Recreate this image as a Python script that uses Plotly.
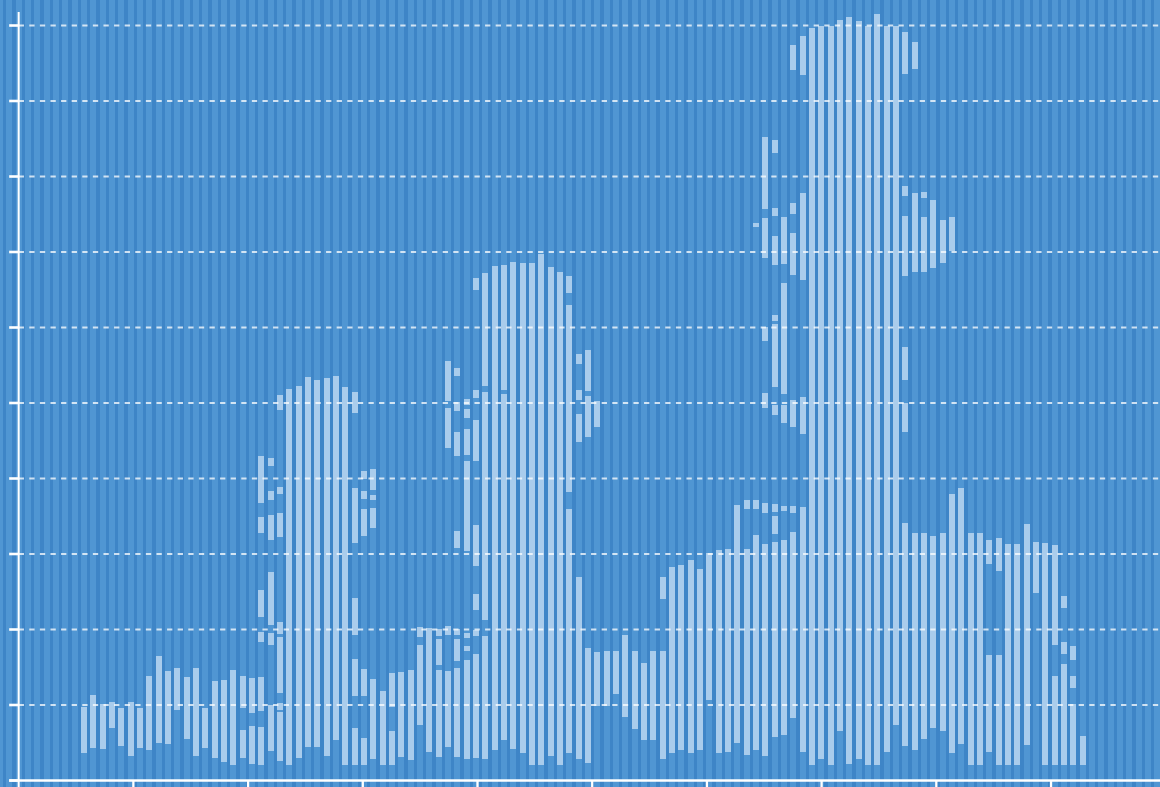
import plotly.graph_objects as go

# Floating light bands per column: column index, lower value, upper value
band_col = [
    9, 10, 11, 12, 13, 14, 15, 16, 17, 18, 19, 20, 21, 22, 23, 24, 25,
    26, 26, 27, 27,
    28, 28, 28, 28, 28, 28,
    29, 29, 29, 29, 29, 29,
    30, 30, 30, 30, 30, 30, 30,
    31, 32, 33, 34, 35, 36, 37,
    38, 38, 38, 38, 38,
    39, 39, 39, 39, 39,
    40, 40, 40, 40,
    41, 42, 42, 43, 44, 45, 45, 46, 47, 47, 47,
    48, 48, 48, 48,
    49, 49, 49, 49, 49, 49, 49,
    50, 50, 50, 50, 50, 50, 50,
    51, 51, 51, 51, 51, 51, 51,
    52, 52, 52,
    53, 54, 54, 55, 56, 57, 58, 59, 60,
    61, 61, 61,
    62, 62, 62, 62,
    63, 63, 63,
    64, 64, 65, 66, 67, 68, 69, 70, 71, 71,
    72, 73, 74, 75, 76, 77, 78, 79, 80, 80,
    81, 81, 81,
    82, 82, 82, 82, 82, 82,
    83, 83, 83, 83, 83, 83, 83, 83, 83,
    84, 84, 84, 84, 84,
    85, 85, 85, 85, 85, 85,
    86, 86, 86, 86,
    87, 88, 89, 90, 91, 92, 93, 94, 95, 96,
    97, 97, 97, 97, 97, 97,
    98, 98, 98, 99, 99, 99, 100, 100, 101, 101, 102, 102,
    103, 104, 105, 106, 106, 107, 107, 108, 109, 110, 111, 112,
    113, 113, 114, 114, 114, 115, 115, 115, 116,
]
band_low = [
    0.37, 0.43, 0.42, 0.70, 0.46, 0.32, 0.43, 0.41, 0.50, 0.49, 0.94, 0.55, 0.32, 0.43, 0.30, 0.24, 0.20,
    0.96, 0.30, 0.90, 0.22,
    3.67, 3.28, 2.16, 1.83, 0.92, 0.20,
    4.16, 3.72, 3.19, 2.06, 1.79, 0.39,
    4.91, 3.80, 3.23, 1.94, 1.16, 0.94, 0.26,
    0.20, 0.30, 0.45, 0.45, 0.32, 0.54, 0.20,
    4.87, 3.14, 1.93, 1.12, 0.20,
    4.00, 3.73, 3.24, 1.12, 0.20,
    3.85, 3.72, 3.35, 0.28,
    0.20, 0.98, 0.20, 0.31, 0.27, 1.90, 0.74, 0.38, 1.91, 1.53, 0.31,
    5.03, 4.41, 1.93, 0.44,
    5.36, 4.90, 4.30, 3.08, 1.93, 1.58, 0.31,
    4.98, 4.80, 4.31, 3.04, 1.89, 1.71, 0.29,
    6.50, 5.07, 4.23, 2.84, 2.26, 1.91, 0.30,
    5.22, 2.13, 0.28,
    0.40, 5.17, 0.54, 0.42, 0.36, 0.20, 0.20, 0.32, 0.20,
    6.46, 3.82, 0.36,
    5.52, 5.04, 4.48, 0.28,
    5.16, 4.55, 0.23,
    4.68, 0.99, 0.99, 1.15, 0.84, 0.68, 0.53, 0.53, 2.40, 0.28,
    0.36, 0.40, 0.36, 0.40, 1.07, 0.37, 0.38, 0.50, 3.59, 0.34,
    7.33, 3.59, 0.41,
    7.57, 6.92, 5.82, 4.94, 3.54, 0.33,
    8.31, 7.48, 6.83, 6.09, 5.21, 4.84, 3.55, 3.26, 0.57,
    6.84, 5.12, 4.73, 3.57, 0.60,
    9.41, 7.50, 6.70, 4.68, 3.54, 0.83,
    9.34, 6.63, 4.59, 0.38,
    0.20, 0.29, 0.20, 0.65, 0.22, 0.29, 0.20, 0.20, 0.38, 0.74,
    9.36, 7.74, 6.68, 5.30, 4.61, 0.46,
    9.43, 6.74, 0.40, 7.71, 6.74, 0.55, 6.79, 0.70, 6.86, 0.66, 7.01, 0.37,
    0.48, 0.20, 0.20, 2.87, 0.38, 2.77, 0.20, 0.20, 0.20, 0.47, 2.49, 0.20,
    1.80, 0.20, 2.29, 1.68, 0.20, 1.60, 1.22, 0.20, 0.20,
]
band_high = [
    0.98, 1.13, 1.01, 1.04, 0.96, 1.04, 0.96, 1.38, 1.65, 1.45, 1.49, 1.37, 1.49, 0.96, 1.32, 1.33, 1.46,
    1.38, 0.67, 1.36, 0.72,
    4.30, 3.49, 2.52, 1.97, 1.37, 0.71,
    4.27, 3.83, 3.52, 2.76, 1.95, 1.00,
    5.11, 3.89, 3.54, 2.10, 1.90, 1.03, 0.91,
    5.19, 5.23, 5.34, 5.30, 5.33, 5.36, 5.21,
    5.15, 3.87, 2.42, 1.61, 0.70,
    4.10, 3.83, 3.60, 1.48, 0.56,
    4.13, 3.78, 3.61, 1.34,
    1.19, 1.42, 0.66, 1.44, 1.46, 2.03, 1.79, 2.02, 2.01, 1.87, 1.46,
    5.55, 4.93, 2.04, 1.45,
    5.47, 5.01, 4.62, 3.30, 2.01, 1.88, 1.49,
    5.05, 4.92, 4.65, 4.23, 1.96, 1.78, 1.59,
    6.66, 5.17, 4.77, 3.38, 2.47, 2.00, 1.68,
    6.72, 5.14, 1.91,
    6.81, 6.83, 5.12, 6.87, 6.85, 6.85, 6.97, 6.80, 6.73,
    6.68, 6.30, 3.59,
    5.65, 5.17, 4.86, 2.70,
    5.70, 5.09, 1.76,
    5.02, 1.70, 1.71, 1.72, 1.93, 1.71, 1.55, 1.71, 2.69, 1.71,
    2.83, 2.86, 2.92, 2.80, 3.01, 3.05, 3.06, 3.65, 3.72, 3.06,
    7.38, 3.72, 3.25,
    8.52, 7.45, 6.01, 5.13, 3.68, 3.13,
    8.48, 7.58, 7.21, 6.17, 6.04, 4.98, 3.66, 3.50, 3.16,
    7.46, 6.59, 4.97, 3.64, 3.18,
    9.74, 7.65, 7.25, 5.04, 3.64, 3.29,
    9.86, 7.78, 5.08, 3.62,
    9.97, 10.00, 10.00, 10.07, 10.11, 10.06, 9.99, 10.15, 10.00, 10.00,
    9.92, 7.87, 7.48, 5.74, 5.00, 3.41,
    9.78, 7.78, 3.28, 7.79, 7.46, 3.28, 7.69, 3.24, 7.42, 3.28, 7.46, 3.79,
    3.88, 3.28, 3.28, 3.19, 1.66, 3.21, 1.66, 3.13, 3.13, 3.40, 3.16, 3.14,
    3.12, 1.38, 2.44, 1.83, 1.54, 1.78, 1.39, 1.01, 0.59,
]

# Background column slots and axis layout
n_slots = 125
grid_values = [1, 2, 3, 4, 5, 6, 7, 8, 9, 10]
x_origin = 2.0
x_tick_step = 12.29
x_tick_count = 9

W, H = 1160, 787
col_px = 28 / 3
x_max = W / col_px
y_unit_px = 75.5
y_zero_px = 780.5
y_min = -(H - y_zero_px) / y_unit_px
y_max = y_zero_px / y_unit_px
bar_w = 6 / col_px

BG = "#3e85c7"
SLOT = "#5096d3"
LIGHT = "#a9ccec"

fig = go.Figure()
fig.add_trace(go.Bar(
    x=list(range(n_slots)), base=[y_min - 0.5] * n_slots, y=[y_max + 1] * n_slots,
    width=bar_w, marker=dict(color=SLOT, line=dict(width=0)), hoverinfo="skip",
))
fig.add_trace(go.Bar(
    x=band_col, base=band_low, y=[h - l for l, h in zip(band_low, band_high)],
    width=bar_w, marker=dict(color=LIGHT, line=dict(width=0)),
))

shapes = []
tick_len_x = 9.5 / col_px
for v in grid_values:
    shapes.append(dict(type="line", xref="x", yref="y", x0=x_origin, x1=x_max, y0=v, y1=v,
                       line=dict(color="rgba(255,255,255,0.75)", width=2, dash="5.3px,5.3px"),
                       layer="above"))
for v in [0] + grid_values:
    shapes.append(dict(type="line", xref="x", yref="y", x0=x_origin - tick_len_x, x1=x_origin,
                       y0=v, y1=v, line=dict(color="white", width=2.6), layer="above"))
# x axis line
shapes.append(dict(type="line", xref="x", yref="y", x0=x_origin - tick_len_x, x1=x_max,
                   y0=0, y1=0, line=dict(color="white", width=2.6), layer="above"))
# y axis line
shapes.append(dict(type="line", xref="x", yref="y", x0=x_origin, x1=x_origin,
                   y0=y_min, y1=10.18, line=dict(color="white", width=2), layer="above"))
for k in range(1, x_tick_count + 1):
    xv = x_origin + k * x_tick_step
    shapes.append(dict(type="line", xref="x", yref="y", x0=xv, x1=xv, y0=0, y1=y_min,
                       line=dict(color="white", width=2.3), layer="above"))

fig.update_layout(
    width=W, height=H, autosize=False,
    margin=dict(l=0, r=0, t=0, b=0, pad=0),
    paper_bgcolor=BG, plot_bgcolor=BG,
    barmode="overlay", bargap=0, showlegend=False,
    xaxis=dict(range=[0, x_max], visible=False, fixedrange=True),
    yaxis=dict(range=[y_min, y_max], visible=False, fixedrange=True),
    shapes=shapes,
)
fig.write_html("out.html")
